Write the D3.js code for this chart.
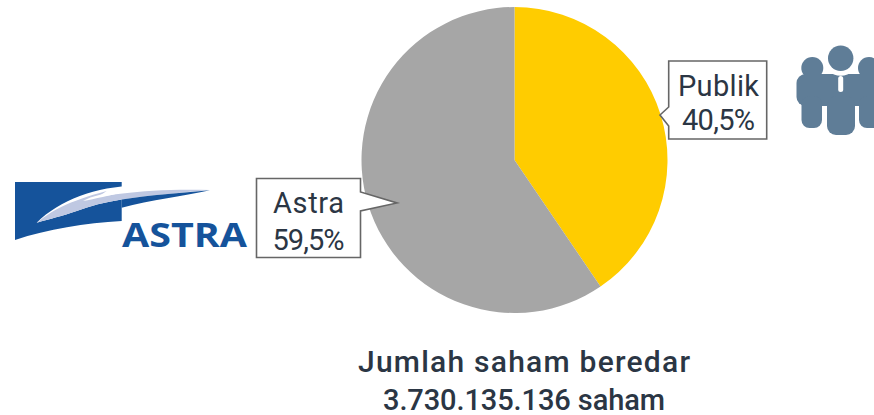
<!DOCTYPE html>
<html>
<head>
<meta charset="utf-8">
<script src="https://cdn.jsdelivr.net/npm/d3@7"></script>
<style>
	html, body { margin: 0; padding: 0; background: #fff; overflow: hidden; }
	svg { display: block; }
	text { font-family: Roboto, "Noto Sans", sans-serif; }
</style>
</head>
<body>
<svg id="chart" width="874" height="415"></svg>
<script>
const categories = ["Publik", "Astra"];
const shares = [40.5, 59.5];
const shareLabels = ["40,5%", "59,5%"];
const sliceColors = ["#FFCC00", "#A6A6A6"];
const captionLines = ["Jumlah saham beredar", "3.730.135.136 saham"];

const cx = 514.5, cy = 160, r = 153;
const ink = "#2B3644";
const svg = d3.select("#chart");

// fit a label to the width measured on the reference
function fitted(sel, len, adjust = "spacing") {
	return sel.attr("textLength", len).attr("lengthAdjust", adjust);
}

// === Pie ===
const pie = d3.pie().sort(null).value(d => d.v);
const arc = d3.arc().innerRadius(0).outerRadius(r);
const slices = pie(categories.map((c, i) => ({ c, v: shares[i] })));

svg.append("g")
	.attr("transform", `translate(${cx}, ${cy})`)
	.selectAll("path")
	.data(slices)
	.enter().append("path")
	.attr("d", arc)
	.attr("fill", (d, i) => sliceColors[i]);

// === Callouts ===
const callouts = [
	{ i: 0, d: "M668.7 61 H766.7 V139 H668.7 V126 L660 115 L668.7 107 Z", tx: 718.5, ty: [96, 130], w: [81, 73] },
	{ i: 1, d: "M256.5 178.5 H360.5 V192 L397 203 L360.5 211 V257.5 H256.5 Z", tx: 308.5, ty: [213, 250], w: [71, 72] }
];
callouts.forEach(c => {
	svg.append("path")
		.attr("d", c.d)
		.attr("fill", "#fff")
		.attr("stroke", "#666")
		.attr("stroke-width", 1.6);
	svg.append("text")
		.attr("x", c.tx).attr("y", c.ty[0])
		.attr("text-anchor", "middle").attr("font-size", "29px").attr("font-weight", 450).attr("fill", ink)
		.text(categories[c.i])
		.call(fitted, c.w[0]);
	svg.append("text")
		.attr("x", c.tx).attr("y", c.ty[1])
		.attr("text-anchor", "middle").attr("font-size", "29px").attr("font-weight", 450).attr("fill", ink)
		.text(shareLabels[c.i])
		.call(fitted, c.w[1]);
});

// === Caption ===
const captionWidths = [332, 282];
const captionSizes = [30, 29];
svg.append("g").selectAll("text")
	.data(captionLines)
	.enter().append("text")
	.attr("x", 524)
	.attr("y", (d, i) => 371.5 + i * 38)
	.attr("text-anchor", "middle")
	.attr("font-size", (d, i) => captionSizes[i] + "px").attr("font-weight", 500)
	.attr("fill", ink)
	.attr("textLength", (d, i) => captionWidths[i])
	.attr("lengthAdjust", "spacing")
	.text(d => d);

// === Astra logo ===
const logoBlue = "#15539B", logoLilac = "#BFC8E2";
const logo = svg.append("g");
logo.append("path")
	.attr("d", "M15 182 H121.7 V221 C85 223 48 229 15 240 Z")
	.attr("fill", logoBlue);
logo.append("path")
	.attr("d", "M36.7 222.7 C60 200 95 187 137 185.3 L137 197 L121.7 199.5 C105 202 90 206 76.7 211 C62 216 50 219 36.7 222.7 Z")
	.attr("fill", "#fff");
logo.append("path")
	.attr("d", "M36.7 222.7 C50 212 68 201 106.7 191 C100 196 92 199 83 201 C100 195 150 188 210 190 C180 193 150 195 121.7 199.5 C105 202 90 206 76.7 211 C62 216 50 219 36.7 222.7 Z")
	.attr("fill", logoLilac);
logo.append("path")
	.attr("d", "M83 201 C92 196 105 193 120 191 L124 192 C110 195 95 199 83 201 Z")
	.attr("fill", "#fff");
logo.append("path")
	.attr("d", "M121.7 199.5 C150 195 180 193 210 190.3 C185 196 150 200 121.7 207.7 Z")
	.attr("fill", logoBlue);
logo.append("text")
	.attr("x", 122).attr("y", 247.3)
	.attr("font-size", "33.5px").attr("font-weight", 700)
	.attr("fill", logoBlue)
	.style("font-family", "'Open Sans', sans-serif")
	.text("ASTRA")
	.call(fitted, 125, "spacingAndGlyphs");

// === People icon ===
const iconColor = "#5F7D97";
const people = svg.append("g").attr("fill", iconColor);
people.append("circle").attr("cx", 812.3).attr("cy", 68).attr("r", 11);
people.append("circle").attr("cx", 869).attr("cy", 68).attr("r", 11);
people.append("rect").attr("x", 796.5).attr("y", 74).attr("width", 90).attr("height", 32).attr("rx", 9);
people.append("circle").attr("cx", 840.7).attr("cy", 58.3).attr("r", 17.5).attr("fill", "#fff");
people.append("circle").attr("cx", 840.7).attr("cy", 58.3).attr("r", 12.7);
people.append("rect").attr("x", 801.5).attr("y", 96).attr("width", 20.5).attr("height", 32).attr("rx", 8);
people.append("rect").attr("x", 827).attr("y", 96).attr("width", 28).attr("height", 39).attr("rx", 9);
people.append("rect").attr("x", 859).attr("y", 96).attr("width", 24).attr("height", 32).attr("rx", 8);
people.append("rect").attr("x", 822).attr("y", 106).attr("width", 5).attr("height", 30).attr("fill", "#fff");
people.append("rect").attr("x", 855).attr("y", 106).attr("width", 4).attr("height", 30).attr("fill", "#fff");
people.append("rect").attr("x", 838.2).attr("y", 76).attr("width", 5).attr("height", 16).attr("rx", 2.5).attr("fill", "#fff");
</script>
</body>
</html>
